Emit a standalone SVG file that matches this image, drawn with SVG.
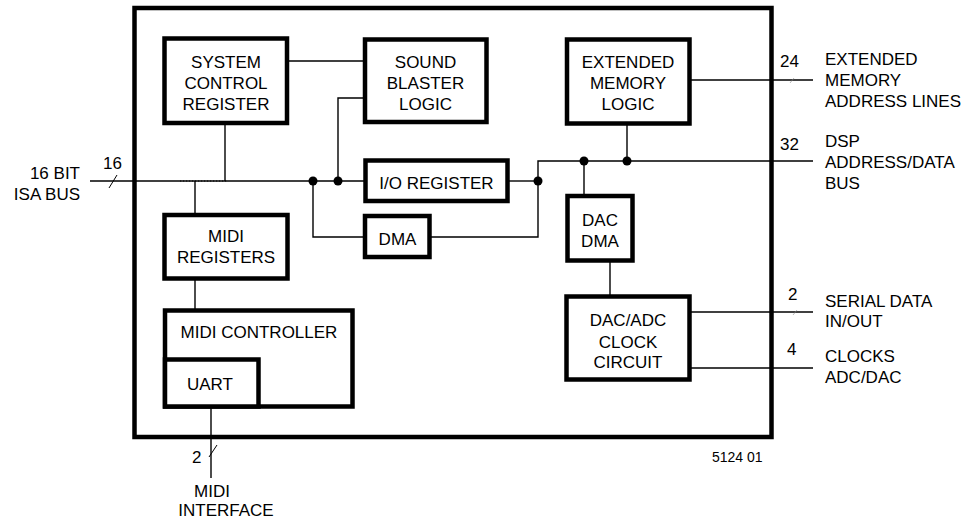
<svg xmlns="http://www.w3.org/2000/svg" width="968" height="522" viewBox="0 0 968 522">
<style>
  .box { fill: #fff; stroke: #000; stroke-width: 4.5; }
  .frame { fill: none; stroke: #000; stroke-width: 4.5; }
  .wire { fill: none; stroke: #000; stroke-width: 1.4; }
  .thin { fill: none; stroke: #000; stroke-width: 1; }
  .faint { fill: none; stroke: #888; stroke-width: 0.6; }
  .dot { fill: #000; }
  text { font-family: "Liberation Sans", Arial, sans-serif; font-size: 17px; fill: #000; }
  .c { text-anchor: middle; }
  .r { text-anchor: end; }
  .small { font-size: 14px; }
</style>
<rect width="968" height="522" fill="#fff"/>
<rect id="chip" class="frame" x="134.5" y="8" width="637" height="429"/>

<g id="connectors">
  <path class="wire" d="M287,61 H365"/>
  <path class="wire" d="M365,98 H338 V181"/>
  <path class="wire" d="M90,181 H365.5"/>
  <path class="wire" d="M225,123 V181"/>
  <path class="wire" d="M195,181 V215"/>
  <path class="wire" d="M195,278.5 V310.5"/>
  <path class="wire" d="M313,181 V237 H365"/>
  <path class="wire" d="M429.5,237 H538 V181"/>
  <path class="wire" d="M507.5,181 H538"/>
  <path class="wire" d="M538,181 V161 H813"/>
  <path class="wire" d="M627,161 V125"/>
  <path class="wire" d="M584,161 V196"/>
  <path class="wire" d="M610,260.5 V296.5"/>
  <path class="wire" d="M689.5,80 H813"/>
  <path class="wire" d="M689.5,312 H813"/>
  <path class="wire" d="M689.5,368 H813"/>
  <path class="wire" d="M211,406.5 V478"/>
  <path class="thin" d="M180,181 H227" stroke-dasharray="1.2 1.8" stroke-width="6"/>
  <path class="thin" d="M109,188 L117,175"/>
  <path class="thin" d="M209,457 L217,445"/>
  <path class="faint" d="M790,83 L794,78"/>
  <path class="faint" d="M793,315 L797,310"/>
  <circle class="dot" cx="313" cy="181" r="4.5"/>
  <circle class="dot" cx="338" cy="181" r="4.5"/>
  <circle class="dot" cx="538" cy="181" r="4.5"/>
  <circle class="dot" cx="584" cy="161" r="4.5"/>
  <circle class="dot" cx="627" cy="161" r="4.5"/>
</g>

<g id="scr">
  <rect class="box" x="164.5" y="38.5" width="122.5" height="84.5"/>
  <text class="c" x="226" y="68">SYSTEM</text>
  <text class="c" x="226" y="89">CONTROL</text>
  <text class="c" x="226" y="110">REGISTER</text>
</g>
<g id="sbl">
  <rect class="box" x="365" y="39.5" width="121.5" height="82.5"/>
  <text class="c" x="425.5" y="68">SOUND</text>
  <text class="c" x="425.5" y="89">BLASTER</text>
  <text class="c" x="425.5" y="110">LOGIC</text>
</g>
<g id="eml">
  <rect class="box" x="567" y="39.5" width="122.5" height="84"/>
  <text class="c" x="628" y="68">EXTENDED</text>
  <text class="c" x="628" y="89">MEMORY</text>
  <text class="c" x="628" y="110">LOGIC</text>
</g>
<g id="ioreg">
  <rect class="box" x="365.5" y="160.5" width="142" height="40.5"/>
  <text class="c" x="436.5" y="189">I/O REGISTER</text>
</g>
<g id="dma">
  <rect class="box" x="365" y="216" width="64.5" height="41"/>
  <text class="c" x="397.5" y="245">DMA</text>
</g>
<g id="dacdma">
  <rect class="box" x="567.5" y="196" width="65" height="64.5"/>
  <text class="c" x="600" y="226">DAC</text>
  <text class="c" x="600" y="247">DMA</text>
</g>
<g id="clock">
  <rect class="box" x="566.5" y="296.5" width="123" height="83"/>
  <text class="c" x="628" y="326">DAC/ADC</text>
  <text class="c" x="628" y="348">CLOCK</text>
  <text class="c" x="628" y="368">CIRCUIT</text>
</g>
<g id="midireg">
  <rect class="box" x="164.5" y="215" width="123" height="63.5"/>
  <text class="c" x="226" y="242">MIDI</text>
  <text class="c" x="226" y="263">REGISTERS</text>
</g>
<g id="midictrl">
  <rect class="box" x="165" y="310.5" width="187.5" height="96"/>
  <text class="c" x="259" y="338">MIDI CONTROLLER</text>
</g>
<g id="uart">
  <rect class="box" x="165" y="359.5" width="93.5" height="47"/>
  <text class="c" x="210" y="390">UART</text>
</g>

<g id="labels">
  <text class="r" x="80" y="179">16 BIT</text>
  <text class="r" x="80" y="200">ISA BUS</text>
  <text x="103" y="169">16</text>
  <text x="780" y="67">24</text>
  <text x="825" y="65">EXTENDED</text>
  <text x="825" y="86">MEMORY</text>
  <text x="825" y="107">ADDRESS LINES</text>
  <text x="780" y="150">32</text>
  <text x="825" y="147">DSP</text>
  <text x="825" y="168">ADDRESS/DATA</text>
  <text x="825" y="189">BUS</text>
  <text x="788" y="300">2</text>
  <text x="825" y="307">SERIAL DATA</text>
  <text x="825" y="327">IN/OUT</text>
  <text x="787" y="355">4</text>
  <text x="825" y="362">CLOCKS</text>
  <text x="825" y="383">ADC/DAC</text>
  <text x="192" y="463">2</text>
  <text class="c" x="212" y="497">MIDI</text>
  <text class="c" x="226" y="516">INTERFACE</text>
  <text class="small" x="712" y="462">5124 01</text>
</g>
</svg>
